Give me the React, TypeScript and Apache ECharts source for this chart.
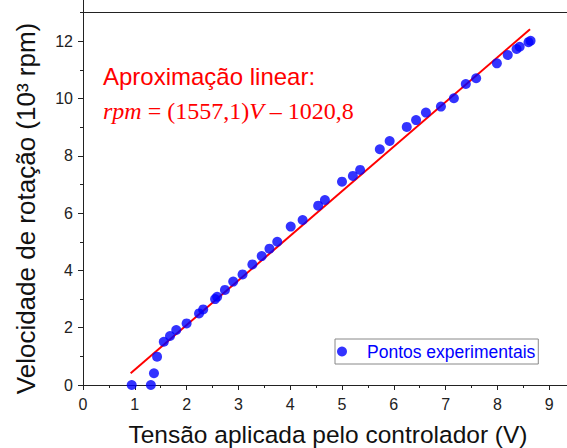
import React, { useEffect, useRef } from "react";
import * as echarts from "echarts";

const voltage = [0.94, 1.31, 1.37, 1.43, 1.56, 1.68, 1.8, 2.0, 2.24, 2.32, 2.55, 2.59, 2.74, 2.9, 3.08, 3.27, 3.45, 3.6, 3.75, 4.01, 4.24, 4.54, 4.67, 5.0, 5.21, 5.35, 5.73, 5.92, 6.25, 6.43, 6.62, 6.91, 7.16, 7.39, 7.59, 7.99, 8.2, 8.37, 8.43, 8.6, 8.64];
const rpmK = [0, 0, 0.41, 0.99, 1.51, 1.71, 1.92, 2.15, 2.5, 2.64, 3.0, 3.08, 3.32, 3.61, 3.86, 4.21, 4.5, 4.76, 5.0, 5.53, 5.76, 6.26, 6.46, 7.1, 7.3, 7.51, 8.23, 8.52, 9.01, 9.25, 9.51, 9.72, 10.01, 10.51, 10.71, 11.23, 11.52, 11.73, 11.81, 11.97, 12.02];
const fitV = [0.92, 8.63];
const fitRpm = [0.41, 12.42];

const seriesName = "Pontos experimentais";
const xTitle = "Tensão aplicada pelo controlador (V)";
const yTitle = "Velocidade de rotação (10³ rpm)";
const fitTitle = "Aproximação linear:";
const fitEquation = "{i|rpm} = (1557,1){i|V} – 1020,8";

const SANS = "'Liberation Sans', Arial, sans-serif";
const SERIF = "'Liberation Serif', 'Times New Roman', serif";
const AXIS = "#222";

export default function App() {
  const ref = useRef<HTMLDivElement>(null);
  useEffect(() => {
    if (!ref.current) return;
    const chart = echarts.init(ref.current, undefined, { renderer: "svg" });
    const points = voltage.map((v, i) => [v, rpmK[i]]);
    const fit = fitV.map((v, i) => [v, fitRpm[i]]);
    chart.setOption({
      animation: false,
      backgroundColor: "#fff",
      grid: { left: 83, right: -34, top: -16, bottom: 63, outerBoundsMode: "none", containLabel: false },
      xAxis: {
        type: "value",
        min: 0,
        max: 10,
        interval: 1,
        name: xTitle,
        nameLocation: "middle",
        nameGap: 37,
        nameTextStyle: { fontFamily: SANS, fontSize: 24.5, color: "#111", padding: [0, 28, 0, 0] },
        axisLine: { lineStyle: { color: AXIS, width: 1 } },
        axisTick: { show: true, length: 5, lineStyle: { color: AXIS } },
        minorTick: { show: true, splitNumber: 2, length: 3, lineStyle: { color: AXIS } },
        axisLabel: { fontFamily: SANS, fontSize: 16, color: "#222", margin: 11, showMaxLabel: false },
        splitLine: { show: false },
      },
      yAxis: {
        type: "value",
        min: 0,
        max: 14,
        interval: 2,
        name: yTitle,
        nameLocation: "middle",
        nameRotate: 90,
        nameGap: 44,
        nameTextStyle: { fontFamily: SANS, fontSize: 26, color: "#111", padding: [0, 48, 0, 0] },
        axisLine: { show: true, lineStyle: { color: AXIS, width: 1 } },
        axisTick: { show: true, length: 5, lineStyle: { color: AXIS } },
        minorTick: { show: true, splitNumber: 2, length: 3, lineStyle: { color: AXIS } },
        axisLabel: { fontFamily: SANS, fontSize: 16, color: "#222", margin: 10, showMaxLabel: false },
        splitLine: { show: false },
      },
      legend: {
        data: [seriesName],
        left: 335,
        top: 339,
        orient: "horizontal",
        icon: "circle",
        itemWidth: 40,
        itemHeight: 10,
        padding: [3, 3, 3, 2],
        borderColor: "#888",
        borderWidth: 1,
        borderRadius: 0,
        textStyle: { fontFamily: SANS, fontSize: 17.5, color: "#0000ff", lineHeight: 19 },
      },
      graphic: [
        {
          type: "text",
          x: 103,
          y: 76,
          silent: true,
          style: {
            text: fitTitle,
            fill: "#ff0000",
            fontFamily: SANS,
            fontSize: 24,
            verticalAlign: "middle",
            align: "left",
          },
        },
        {
          type: "text",
          x: 103,
          y: 111,
          silent: true,
          style: {
            text: fitEquation,
            fill: "#ff0000",
            fontFamily: SERIF,
            fontSize: 24,
            verticalAlign: "middle",
            align: "left",
            rich: {
              i: { fontFamily: SERIF, fontSize: 24, fontStyle: "italic", fill: "#ff0000" },
            },
          },
        },
      ],
      series: [
        {
          name: "Ajuste",
          type: "line",
          data: fit,
          showSymbol: false,
          symbol: "none",
          lineStyle: { color: "#ff0000", width: 2 },
          silent: true,
          z: 3,
        },
        {
          name: seriesName,
          type: "scatter",
          data: points,
          symbol: "circle",
          symbolSize: 10,
          itemStyle: { color: "#0000ff" },
          clip: true,
          z: 4,
          markLine: {
            silent: true,
            symbol: "none",
            label: { show: false },
            lineStyle: { color: AXIS, width: 1, type: "solid" },
            emphasis: { disabled: true },
            data: [{ yAxis: 13 }],
          },
        },
      ],
    });
    return () => chart.dispose();
  }, []);
  return (
    <div
      ref={ref}
      style={{ position: "fixed", left: 0, top: 0, width: 567, height: 448, background: "#fff" }}
    />
  );
}
